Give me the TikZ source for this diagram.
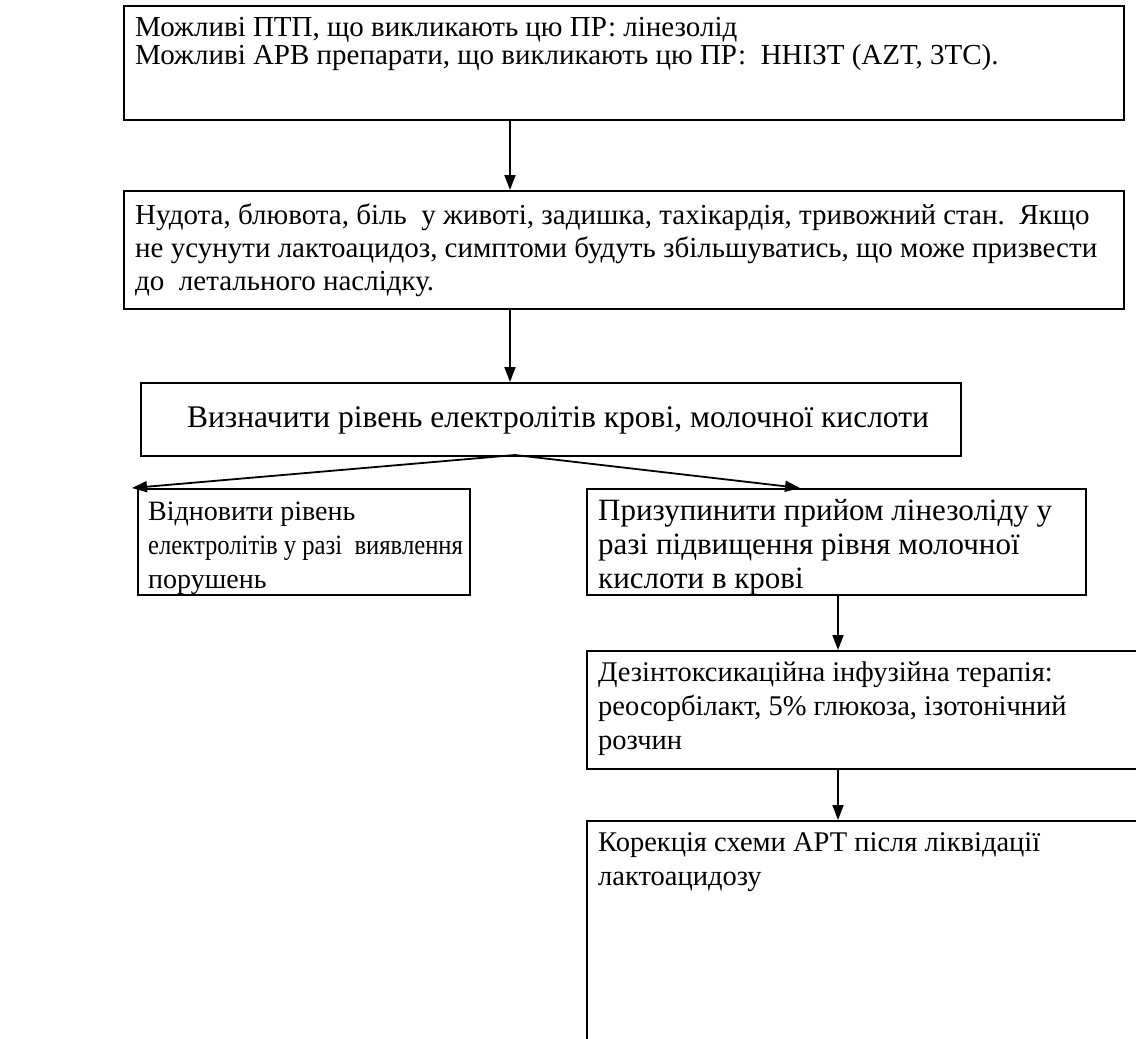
\documentclass[tikz,border=0pt]{standalone}
\usepackage{fontspec}
\setmainfont{Liberation Serif}
\usetikzlibrary{arrows.meta}
\begin{document}
\begin{tikzpicture}[x=1pt,y=-1pt,
  box/.style={draw, line width=1.8pt, inner sep=0pt, anchor=north west},
  ln/.style={anchor=base west, inner sep=0pt},
  fa/.style={font=\fontsize{29}{33}\selectfont},
  fb/.style={font=\fontsize{28}{33}\selectfont},
  fc/.style={font=\fontsize{31}{34}\selectfont},
  fe/.style={font=\fontsize{31.5}{34}\selectfont},
  fd/.style={font=\fontsize{28.5}{34}\selectfont},
  arr/.style={line width=1.8pt, -{Triangle[width=11pt,length=15pt]}}]
\useasboundingbox (0,0) rectangle (1136,1039);
\clip (0,0) rectangle (1136,1039);
\fill[white] (0,0) rectangle (1136,1039);
% boxes
\node[box, minimum width=1000, minimum height=114] (b1) at (123,5) {};
\node[box, minimum width=1000, minimum height=118] (b2) at (123,190) {};
\node[box, minimum width=820, minimum height=73] (b3) at (140,382) {};
\node[box, minimum width=332, minimum height=106] (b4) at (137,488) {};
\node[box, minimum width=499, minimum height=106] (b5) at (586,488) {};
\node[box, minimum width=600, minimum height=118] (b6) at (586,650) {};
\node[box, minimum width=600, minimum height=260] (b7) at (586,820) {};
% texts
\node[ln,fa] (t1a) at (135,36) {Можливі ПТП, що викликають цю ПР: лінезолід};
\node[ln,fa] (t1b) at (135,64) {Можливі АРВ препарати, що викликають цю ПР:\ \ ННІЗТ (AZT, 3TC).};
\node[ln,fa] (t2a) at (135,224) {Нудота, блювота, біль\ \ у животі, задишка, тахікардія, тривожний стан.\ \ Якщо};
\node[ln,fa] (t2b) at (135,257) {не усунути лактоацидоз, симптоми будуть збільшуватись, що може призвести};
\node[ln,fa] (t2c) at (135,290) {до\ \ летального наслідку.};
\node[fe, anchor=base, inner sep=0pt] (t3) at (558,427) {Визначити рівень електролітів крові, молочної кислоти};
\node[ln,fb] (t4a) at (148,520) {Відновити рівень};
\node[ln,fb] (t4b) at (148,554) {\scalebox{0.88}[1]{електролітів у разі\ \ виявлення}};
\node[ln,fb] (t4c) at (148,588) {порушень};
\node[ln,fc] (t5a) at (598,520) {Призупинити прийом лінезоліду у};
\node[ln,fc] (t5b) at (598,554) {разі підвищення рівня молочної};
\node[ln,fc] (t5c) at (598,588) {кислоти в крові};
\node[ln,fd] (t6a) at (598,681) {Дезінтоксикаційна інфузійна терапія:};
\node[ln,fd] (t6b) at (598,715) {реосорбілакт, 5\% глюкоза, ізотонічний};
\node[ln,fd] (t6c) at (598,749) {розчин};
\node[ln,fd] (t7a) at (598,851) {Корекція схеми АРТ після ліквідації};
\node[ln,fd] (t7b) at (598,885) {лактоацидозу};
% connectors
\draw[arr] (b1.south -| 510,0) -- (b2.north -| 510,0);
\draw[arr] (b2.south -| 510,0) -- (b3.north -| 510,0);
\coordinate (c3) at (515,455);
\draw[arr] (c3) -- (b4.north west -| 132,0);
\draw[arr] (c3) -- (b5.north -| 800,0);
\draw[arr] (b5.south -| 838,0) -- (b6.north -| 838,0);
\draw[arr] (b6.south -| 838,0) -- (b7.north -| 838,0);
\end{tikzpicture}
\end{document}
